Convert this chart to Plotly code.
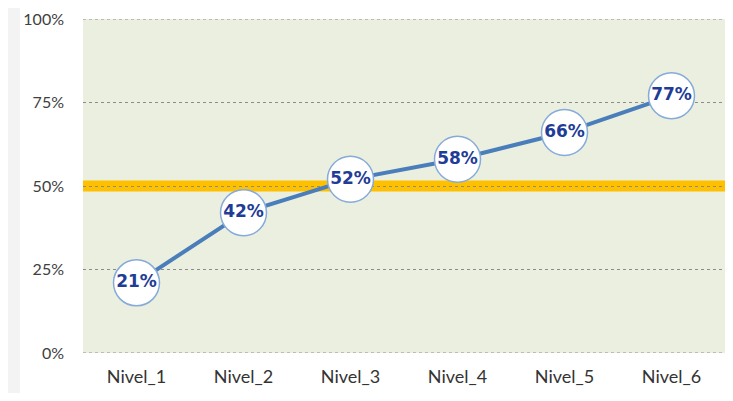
import plotly.graph_objects as go

# ---------- data ----------
niveles = ["Nivel_1", "Nivel_2", "Nivel_3", "Nivel_4", "Nivel_5", "Nivel_6"]
valores = [0.21, 0.42, 0.52, 0.58, 0.66, 0.77]
meta = 0.50
y_ticks = [0, 0.25, 0.5, 0.75, 1.0]
y_tick_labels = ["0%", "25%", "50%", "75%", "100%"]

# page has an 8px body margin, so the figure is sized to fit inside it
W, H = 717, 385
ML, MR, MT, MB = 75, 0, 11, 40
PW, PH = W - ML - MR, H - MT - MB

fig = go.Figure()

fig.add_trace(go.Scatter(
    x=niveles,
    y=valores,
    mode="lines+markers+text",
    line=dict(color="#4A7EBB", width=4),
    marker=dict(size=46, color="white", line=dict(color="#86ABDA", width=1.5)),
    text=[f"{v:.0%}" for v in valores],
    textposition="middle center",
    textfont=dict(family="DejaVu Sans", size=17, color="#1F3C96", weight="bold"),
    cliponaxis=False,
    showlegend=False,
    hoverinfo="skip",
))

# target band at 50%
fig.add_shape(
    type="line", xref="paper", yref="y",
    x0=0, x1=1, y0=meta, y1=meta,
    line=dict(color="#FFC000", width=11),
    layer="below",
)

# plotly drops grid lines on the range edges, draw 0% and 100% by hand
for yv in (y_ticks[0], y_ticks[-1]):
    fig.add_shape(
        type="line", xref="paper", yref="y",
        x0=0, x1=1, y0=yv, y1=yv,
        line=dict(color="#8C8C8C", width=1, dash="dot"),
        layer="below",
    )

# faint grey strip on the far left of the page
fig.add_shape(
    type="rect", xref="paper", yref="paper",
    x0=-ML / PW, x1=(12 - ML) / PW, y0=-MB / PH, y1=1 + MT / PH,
    fillcolor="#F3F3F3", line=dict(width=0), layer="below",
)

fig.update_layout(
    width=W, height=H,
    margin=dict(l=ML, r=MR, t=MT, b=MB),
    paper_bgcolor="white",
    plot_bgcolor="#EBEFDF",
    font=dict(family="Lato", size=16, color="#404040"),
    xaxis=dict(
        showgrid=False, zeroline=False, showline=False,
        range=[-0.5, 5.5],
        tickfont=dict(size=18, color="#333333"),
        ticklabelstandoff=11,
    ),
    yaxis=dict(
        range=[0, 1], tickvals=y_ticks, ticktext=y_tick_labels,
        showgrid=True, gridcolor="#8C8C8C", griddash="dot", gridwidth=1,
        zeroline=False, showline=False,
        tickfont=dict(size=16, color="#404040"),
        ticklabelstandoff=18,
    ),
)

fig.write_html("out.html")
